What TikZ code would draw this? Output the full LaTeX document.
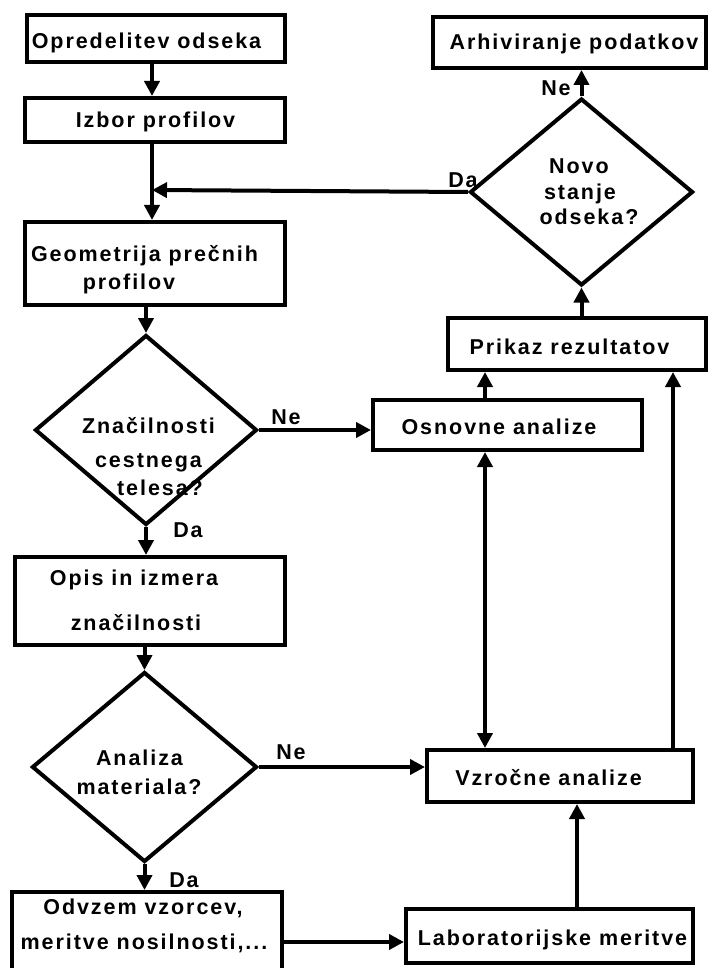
\documentclass[tikz,border=0pt]{standalone}
\usepackage{fontspec}
\setmainfont{Liberation Sans}[LetterSpace=9]
\usetikzlibrary{arrows.meta,shapes.geometric,calc}
\tikzset{
  ln/.style={line width=4pt},
  arr/.style={ln,-{Triangle[length=15pt,width=15pt]}},
  darr/.style={ln,{Triangle[length=15pt,width=15pt]}-{Triangle[length=15pt,width=15pt]}},
  boxn/.style={draw,ln,inner sep=0pt,rectangle},
  dia/.style={draw,ln,diamond,inner sep=0pt},
  txt/.style={anchor=base,inner sep=0pt,font=\fontsize{21.5}{25}\selectfont\bfseries},
}
\begin{document}
\begin{tikzpicture}[x=1pt,y=-1pt]
\useasboundingbox (0,0) rectangle (707,968);
% boxes (left column)
\node[boxn,minimum width=258pt,minimum height=47pt] (b1) at (156,38.5) {};
\node[boxn,minimum width=260pt,minimum height=44pt] (b2) at (155,120) {};
\node[boxn,minimum width=260pt,minimum height=83pt] (b3) at (155,263.5) {};
\node[dia,minimum width=222pt,minimum height=190pt] (d1) at (146,430) {};
\node[boxn,minimum width=270pt,minimum height=88pt] (b4) at (150,601) {};
\node[dia,minimum width=225pt,minimum height=190pt] (d2) at (144.5,767) {};
\node[boxn,minimum width=270pt,minimum height=83pt] (b5) at (147,933.5) {};
% boxes (right column)
\node[boxn,minimum width=273pt,minimum height=51pt] (a1) at (569.5,42.5) {};
\node[dia,minimum width=223pt,minimum height=187pt] (d3) at (581.5,192) {};
\node[boxn,minimum width=258pt,minimum height=52pt] (a2) at (577,344) {};
\node[boxn,minimum width=269pt,minimum height=50pt] (a3) at (507.5,425) {};
\node[boxn,minimum width=266pt,minimum height=52pt] (a4) at (560,776) {};
\node[boxn,minimum width=287pt,minimum height=54pt] (a5) at (549.5,936) {};
% texts
\node[txt] (t1) at (146.5,49) {Opredelitev odseka};
\node[txt] (t2) at (155.5,128) {Izbor profilov};
\node[txt] (t3a) at (144.5,261) {Geometrija prečnih};
\node[txt] (t3b) at (129,289) {profilov};
\node[txt] (t4a) at (134,585) {Opis in izmera};
\node[txt] (t4b) at (136,630) {značilnosti};
\node[txt] (t5a) at (143,914) {Odvzem vzorcev,};
\node[txt] (t5b) at (144,949) {meritve nosilnosti,...};
\node[txt] (ta1) at (574,50) {Arhiviranje podatkov};
\node[txt] (ta2) at (569.5,354) {Prikaz rezultatov};
\node[txt] (ta3) at (499,434) {Osnovne analize};
\node[txt] (ta4) at (548.5,785) {Vzročne analize};
\node[txt] (ta5) at (552.5,945) {Laboratorijske meritve};
\node[txt] (td1a) at (148.5,433) {Značilnosti};
\node[txt] (td1b) at (148.5,467) {cestnega};
\node[txt] (td1c) at (160,495) {telesa?};
\node[txt] (td2a) at (139.5,765) {Analiza};
\node[txt] (td2b) at (139,794) {materiala?};
\node[txt] (td3a) at (579,174) {Novo};
\node[txt] (td3b) at (580,200) {stanje};
\node[txt] (td3c) at (589,225) {odseka?};
% branch labels
\node[txt] (l1) at (556,96) {Ne};
\node[txt] (l2) at (463,188) {Da};
\node[txt] (l3) at (286,424) {Ne};
\node[txt] (l4) at (188,537) {Da};
\node[txt] (l5) at (291,759) {Ne};
\node[txt] (l6) at (184,887) {Da};
% helper coordinates
\coordinate (cx) at (152,0);
\coordinate (jn) at (152,190);
\coordinate (yl) at (0,942);
\coordinate (xm) at (485,0);
\coordinate (xl) at (577,0);
\coordinate (xr) at (673,0);
% connectors
\draw[arr] (b1.south -| cx) -- (b2.north -| cx);
\draw[arr] (b2.south -| cx) -- (b3.north -| cx);
\draw[arr] (d3.west) -- (jn);
\draw[arr] (b3.south -| d1.north) -- (d1.north);
\draw[arr] (d1.east) -- (d1.east -| a3.west);
\draw[arr] (d1.south) -- (d1.south |- b4.north);
\draw[arr] (b4.south -| d2.north) -- (d2.north);
\draw[arr] (d2.east) -- (d2.east -| a4.west);
\draw[arr] (d2.south) -- (d2.south |- b5.north);
\draw[arr] (b5.east |- yl) -- (a5.west |- yl);
\draw[arr] (a5.north -| xl) -- (a4.south -| xl);
\draw[darr] (a4.north -| xm) -- (a3.south -| xm);
\draw[arr] (a3.north -| xm) -- (a2.south -| xm);
\draw[arr] (a4.north -| xr) -- (a2.south -| xr);
\draw[arr] (a2.north -| d3.south) -- (d3.south);
\draw[arr] (d3.north) -- (d3.north |- a1.south);
\end{tikzpicture}
\end{document}
